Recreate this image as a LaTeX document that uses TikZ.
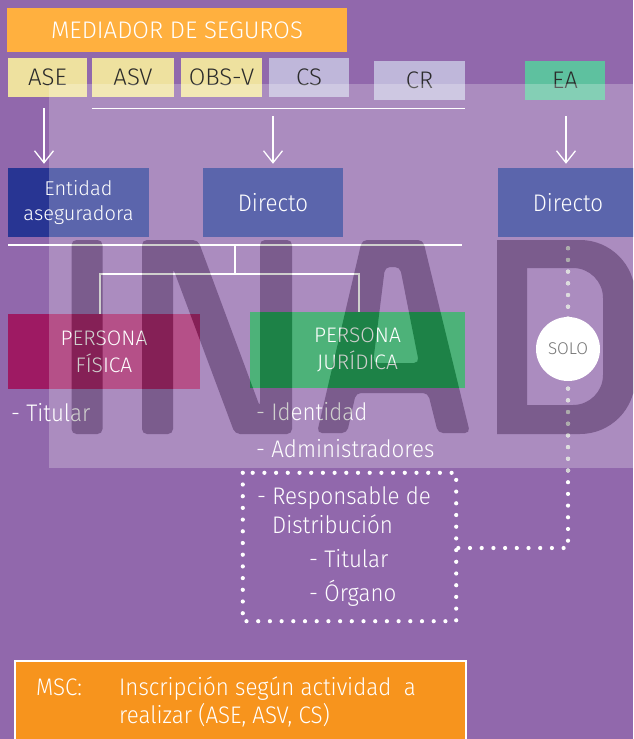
\documentclass[tikz,border=0pt]{standalone}
\usepackage{fontspec}
\setmainfont{Fira Sans Light}
\newfontfamily\nf{Fira Sans Light}[FakeStretch=0.93]
\usetikzlibrary{arrows.meta}
\definecolor{bg}{HTML}{9168AC}
\definecolor{medorange}{HTML}{FFB03F}
\definecolor{tagyellow}{HTML}{EEE19F}
\definecolor{taglilac}{HTML}{BFB7DA}
\definecolor{taggreen}{HTML}{5EC19F}
\definecolor{navy}{HTML}{283593}
\definecolor{magenta}{HTML}{9E1A63}
\definecolor{pjgreen}{HTML}{169B50}
\definecolor{mscorange}{HTML}{F7941D}
\definecolor{tagtext}{HTML}{2B2B2B}
\definecolor{solotext}{HTML}{4A4A4A}
\definecolor{wm}{RGB}{48,48,50}
\definecolor{dotgrey}{HTML}{D2D2D2}
\newcommand\myfs[2]{\fontsize{#1}{#2}\selectfont}
\begin{document}
\begin{tikzpicture}[x=1pt,y=-1pt,
  box/.style={rectangle,inner sep=0pt,align=center},
  tag/.style={box,text=tagtext,font=\myfs{24}{28}},
  wl/.style={white,line width=1.3pt},
  arr/.style={white,line width=1.3pt,-{Straight Barb[length=12pt,width=19pt]}},
  dots/.style={white,line width=4.2pt,line cap=round,dash pattern=on 0pt off 11.7pt},
  lst/.style={anchor=base west,inner sep=0pt,text=white,font=\nf\myfs{24}{28}},
]
\clip (0,0) rectangle (633,739);
\fill[bg] (0,0) rectangle (633,739);

% top boxes
\node[box,fill=medorange,minimum width=340pt,minimum height=44pt,text=white,font=\myfs{24}{28}] (med) at (177,30) {MEDIADOR DE SEGUROS};
\node[tag,fill=tagyellow,minimum width=79pt,minimum height=39pt] (ase) at (47.5,77.5) {ASE};
\node[tag,fill=tagyellow,minimum width=82pt,minimum height=39pt] (asv) at (133,77.5) {ASV};
\node[tag,fill=tagyellow,minimum width=81pt,minimum height=39pt] (obs) at (221.5,77.5) {OBS-V};
\node[tag,fill=taglilac,minimum width=80pt,minimum height=39pt] (cs) at (309,77.5) {CS};
\node[tag,fill=taglilac,minimum width=91pt,minimum height=39pt] (cr) at (419.5,80.5) {CR};
\node[tag,fill=taggreen,minimum width=80pt,minimum height=39pt] (ea) at (565,80.5) {EA};

% dotted connector (drawn before circle)
\node[box,minimum width=213pt,minimum height=148pt] (drect) at (349.5,547) {};
\coordinate (cn) at (568,548);
\node[box,fill=navy,minimum width=140pt,minimum height=69pt,text=white,font=\nf\myfs{24}{28}] (dir2) at (568,202.5) {Directo};
\draw[dots] ([yshift=-11pt]dir2.south) -- (cn) -- (cn -| drect.east);
\draw[dots,dotgrey] ([yshift=-11pt]dir2.south) -- ([yshift=-11pt]dir2.south |- 0,462);
\draw[dots] (drect.north west) rectangle (drect.south east);

% second row
\node[box,fill=navy,minimum width=141pt,minimum height=69pt,text=white,font=\myfs{20}{25}] (ent) at (78.5,202.5) {Entidad\\aseguradora};
\node[box,fill=navy,minimum width=140pt,minimum height=69pt,text=white,font=\nf\myfs{24}{28}] (dir1) at (273,202.5) {Directo};

% persona boxes
\node[box,fill=magenta,minimum width=192pt,minimum height=75pt,text=white,font=\myfs{21}{27}] (pf) at (104,351.5) {PERSONA\\FÍSICA};
\node[box,fill=pjgreen,minimum width=215pt,minimum height=76pt,text=white,font=\myfs{21}{27}] (pj) at (357.5,350) {PERSONA\\JURÍDICA};

% connectors
\draw[wl] ([yshift=-11pt]asv.south west) -- ([yshift=-8pt]cr.south east);
\coordinate (a1) at (44,108);
\draw[arr] (a1) -- ([yshift=4pt]a1 |- ent.north);
\coordinate (a2) at (273,116);
\draw[arr] (a2) -- ([yshift=4pt]dir1.north);
\coordinate (a3) at (566,116);
\draw[arr] (a3) -- ([yshift=4pt]a3 |- dir2.north);
\coordinate (busL) at (8,245);
\coordinate (busR) at (462,245);
\coordinate (j) at (235,245);
\coordinate (j2) at (235,274);
\draw[wl] (busL) -- (busR);
\draw[wl] (j) -- (j2);
\draw[wl] ([xshift=-4pt]pf.north) |- ([xshift=1.5pt]pj.north |- j2) -- ([xshift=1.5pt]pj.north);

% lists
\node[lst] (l1) at (11,421) {- Titular};
\node[lst] (l2) at (256,420) {- Identidad};
\node[lst] (l3) at (256,457) {- Administradores};
\node[lst] (l4) at (257,504) {- Responsable de};
\node[lst] (l5) at (272,533) {Distribución};
\node[lst] (l6) at (309,567) {- Titular};
\node[lst] (l7) at (309,601) {- Órgano};

% solo circle
\node[circle,fill=white,minimum size=64pt,inner sep=0pt,text=solotext,font=\myfs{17}{20}] (solo) at (568,349) {SOLO};

% translucent overlay
\fill[white,opacity=0.24] (49,84) rectangle (640,468);

% watermark INAD (subtractive look via difference blend)
\begin{scope}[blend mode=difference]
\fill[wm,rounded corners=5pt] (71.5,240) rectangle (102.5,434);
\fill[wm,rounded corners=5pt] (142,240) -- (198,240) -- (260,407) -- (260,240) -- (292,240) -- (292,434) -- (235,434) -- (173,268) -- (173,434) -- (142,434) -- cycle;
\fill[wm,rounded corners=5pt,even odd rule] (362,240) -- (423,240) -- (470,433) -- (438,433) -- (428,393) -- (356,393) -- (347,433) -- (317,433) -- cycle
  (385,267) -- (400,267) -- (419,363) -- (373,363) -- cycle;
\fill[wm,even odd rule] (497,240) -- (580,240) arc[start angle=90,end angle=0,radius=55pt] -- (635,379) arc[start angle=0,end angle=-90,radius=55pt] -- (497,434) -- cycle
  (527,268) -- (573,268) arc[start angle=90,end angle=0,radius=30pt] -- (603,375) arc[start angle=0,end angle=-90,radius=30pt] -- (527,405) -- cycle;
\end{scope}

% bottom box
\node[box,draw=white,line width=2.5pt,fill=mscorange,minimum width=451pt,minimum height=92pt] (msc) at (240.5,707) {};
\node[lst] (m1) at (36,695) {MSC:};
\node[lst] (m2) at (119,695) {Inscripción según actividad~ a};
\node[lst] (m3) at (119,723) {realizar (ASE, ASV, CS)};
\end{tikzpicture}
\end{document}
